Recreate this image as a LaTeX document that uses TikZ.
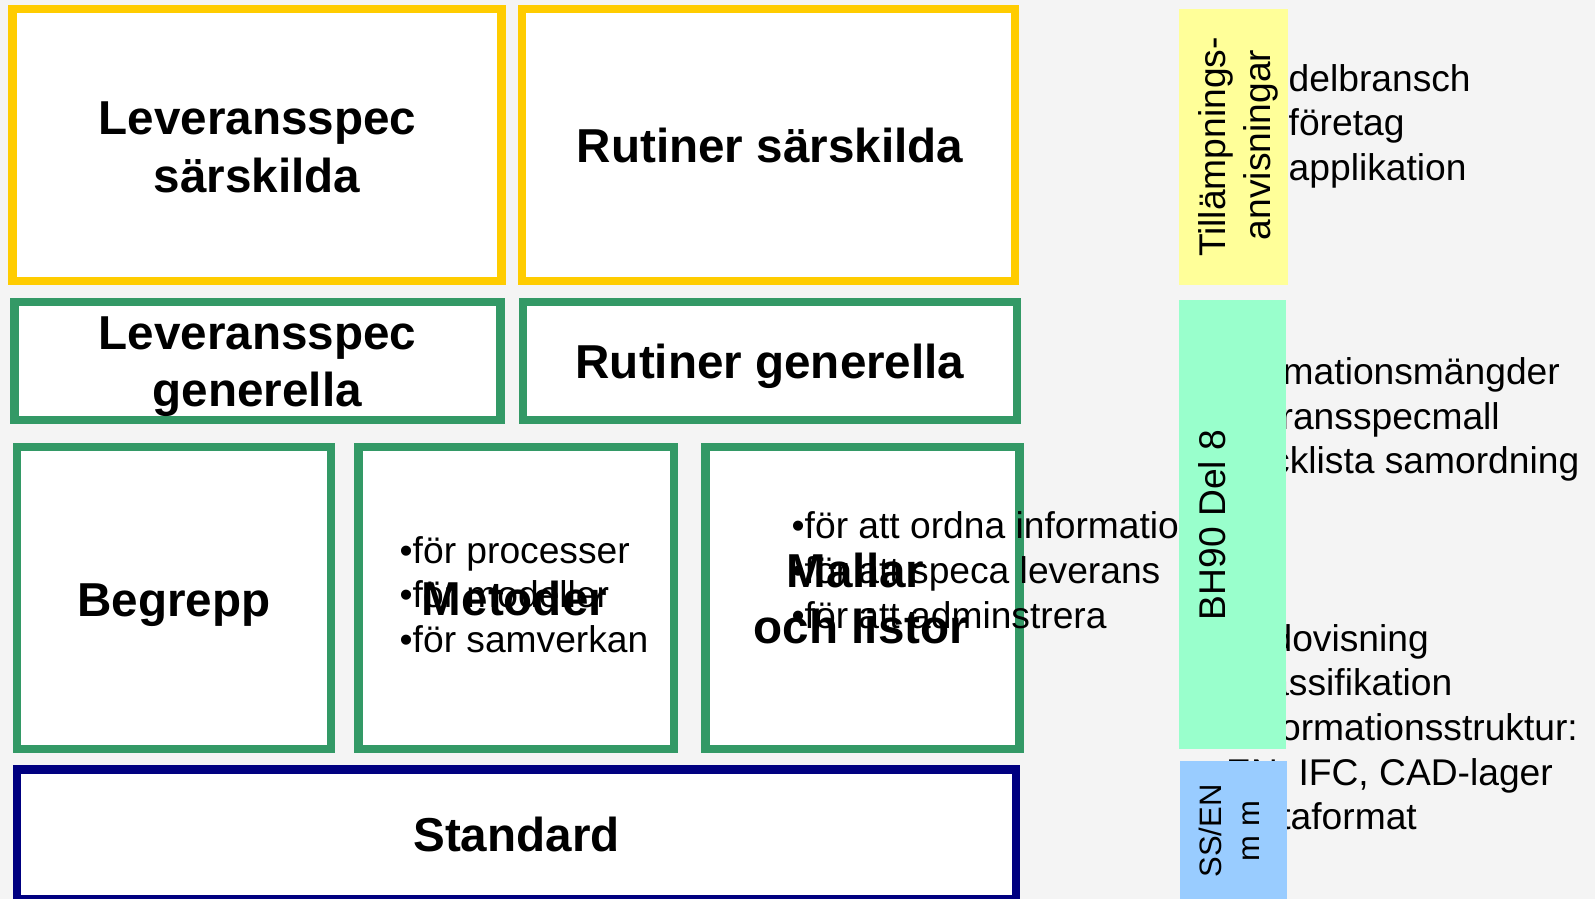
\documentclass[tikz,border=0pt]{standalone}
\usepackage{fontspec}
\setmainfont{Liberation Sans}
\definecolor{bg}{HTML}{F4F4F4}
\definecolor{gold}{HTML}{FFCC00}
\definecolor{sea}{HTML}{339966}
\definecolor{navyb}{HTML}{000080}
\definecolor{paley}{HTML}{FFFF99}
\definecolor{mint}{HTML}{99FFCC}
\definecolor{sky}{HTML}{99CCFF}
\tikzset{
  frame/.style={rectangle, draw=#1, line width=8.4pt, fill=white, inner sep=0pt, outer sep=0pt},
  band/.style={rectangle, fill=#1, draw=none, inner sep=0pt, outer sep=0pt},
  big/.style={font=\fontsize{47.6}{57}\selectfont\bfseries, inner sep=0pt, anchor=base},
  txt/.style={font=\fontsize{37.2}{44}\selectfont, inner sep=0pt},
  vtxt/.style={font=\fontsize{37.2}{44}\selectfont, inner sep=0pt, rotate=90, anchor=base},
  vsmall/.style={font=\fontsize{31}{37}\selectfont, inner sep=0pt, rotate=90, anchor=base},
}
\begin{document}
\begin{tikzpicture}[x=1pt,y=-1pt]
\useasboundingbox (0,0) rectangle (1595,899);
\fill[bg] (0,0) rectangle (1595,899);

% boxes
\node[frame=gold, minimum width=489pt, minimum height=271.6pt] (ls) at (256.8,145) {};
\node[frame=gold, minimum width=493pt, minimum height=271.6pt] (rs) at (768.5,145) {};
\node[frame=sea, minimum width=486pt, minimum height=118pt] (lg) at (257.5,360.7) {};
\node[frame=sea, minimum width=494pt, minimum height=118pt] (rg) at (769.7,360.7) {};
\node[frame=sea, minimum width=314.3pt, minimum height=302pt] (beg) at (173.85,598) {};
\node[frame=sea, minimum width=315.7pt, minimum height=302pt] (met) at (516.15,598) {};
\node[frame=sea, minimum width=313.8pt, minimum height=302pt] (mal) at (862.4,598) {};
\node[frame=navyb, minimum width=999.5pt, minimum height=130.2pt] (std) at (516.45,834.4) {};

% bold titles
\node[big] (lsa) at (257.5,134.3) {Leveransspec};
\node[big] (lsb) at (257.2,192.3) {särskilda};
\node[big] (rsa) at (770,162.7) {Rutiner särskilda};
\node[big] (lga) at (257.5,349.3) {Leveransspec};
\node[big] (lgb) at (257.2,406) {generella};
\node[big] (rga) at (770,378.3) {Rutiner generella};
\node[big] (bga) at (174,616.7) {Begrepp};

% bullets in Metoder
\node[txt, anchor=base west] (m1) at (399.5,563) {•för processer};
\node[txt, anchor=base west] (m2) at (399.5,607.5) {•för modeller};
\node[txt, anchor=base west] (m3) at (399.5,652) {•för samverkan};
\node[big] (mea) at (514.5,615) {Metoder};

% bullets in Mallar
\node[txt, anchor=base west] (l1) at (791.5,538) {•för att ordna information};
\node[txt, anchor=base west] (l2) at (791.5,583) {•för att speca leverans};
\node[txt, anchor=base west] (l3) at (791.5,628) {•för att adminstrera};
\node[big] (maa) at (855.5,587) {Mallar};
\node[big] (mab) at (861,643) {och listor};

\node[big] (sta) at (516.5,851.5) {Standard};

% right-hand texts
\node[txt, anchor=base west] (t1) at (1288.5,91.7) {delbransch};
\node[txt, anchor=base west] (t2) at (1288.5,135.5) {företag};
\node[txt, anchor=base west] (t3) at (1288.5,180) {applikation};

\node[txt, anchor=base east] (b1) at (1560,384.5) {Informationsmängder};
\node[txt, anchor=base east] (b2) at (1500,429) {Leveransspecmall};
\node[txt, anchor=base east] (b3) at (1579.5,473) {Checklista samordning};
\node[txt, anchor=base east] (b4) at (1429,651) {Redovisning};
\node[txt, anchor=base east] (b5) at (1452.5,695.5) {Klassifikation};
\node[txt, anchor=base east] (b6) at (1578,740) {Informationsstruktur:};
\node[txt, anchor=base east] (b7) at (1553,785.5) {EN, IFC, CAD-lager};
\node[txt, anchor=base east] (b8) at (1417,829.5) {Dataformat};

% coloured bands
\node[band=paley, minimum width=109pt, minimum height=276pt] (ya) at (1233.5,147) {};
\node[band=mint, minimum width=107pt, minimum height=449pt] (gb) at (1232.5,524.5) {};
\node[band=sky, minimum width=107pt, minimum height=138pt] (bb) at (1233.5,830) {};

\node[vtxt] (ya1) at (1225,147) {Tillämpnings-};
\node[vtxt] (ya2) at (1270,145) {anvisningar};
\node[vtxt] (gb1) at (1225,525) {BH90 Del 8};
\node[vsmall] (bb1) at (1221,831) {SS/EN};
\node[vsmall] (bb2) at (1259.5,831) {m m};
\end{tikzpicture}
\end{document}
